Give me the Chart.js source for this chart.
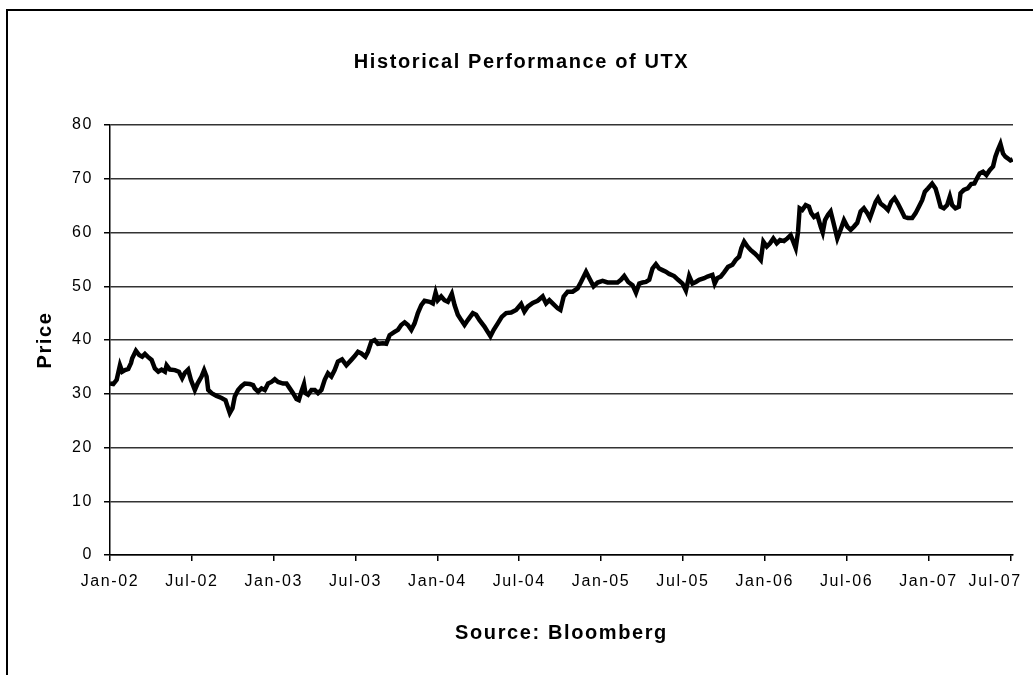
<!DOCTYPE html>
<html>
<head>
<meta charset="utf-8">
<title>Historical Performance of UTX</title>
<script src="https://cdn.jsdelivr.net/npm/chart.js@4.4.1/dist/chart.umd.min.js"></script>
<style>
  html, body { margin: 0; padding: 0; background: #fff; overflow: hidden; }
  #frame { position: absolute; left: 6px; top: 9px; width: 1100px; height: 720px;
           border-left: 2px solid #000; border-top: 2px solid #000; }
  #wrap { position: absolute; left: 0; top: 0; width: 1033px; height: 675px; }
</style>
</head>
<body>
<div id="frame"></div>
<div id="wrap"><canvas id="utx" width="1033" height="675"></canvas></div>
<script>
// ── DATA (month offsets from Jan-02, closing price) ─────────────────
var months = [
  0.00, 0.24, 0.49, 0.73, 0.90, 1.10, 1.34, 1.54, 1.63, 1.90,
  2.14, 2.36, 2.56, 2.76, 3.05, 3.29, 3.54, 3.78, 4.03, 4.15,
  4.39, 4.76, 5.05, 5.29, 5.49, 5.73, 5.93, 6.22, 6.42, 6.71,
  6.90, 7.08, 7.20, 7.45, 7.81, 8.18, 8.47, 8.62, 8.78, 8.98,
  9.15, 9.39, 9.64, 9.88, 10.25, 10.49, 10.61, 10.86, 11.11, 11.35,
  11.59, 11.84, 12.08, 12.32, 12.69, 12.94, 13.18, 13.42, 13.67, 13.84,
  14.03, 14.22, 14.33, 14.52, 14.77, 15.01, 15.25, 15.50, 15.74, 15.98,
  16.23, 16.47, 16.71, 17.01, 17.33, 17.69, 17.94, 18.18, 18.43, 18.72,
  18.91, 19.16, 19.40, 19.64, 20.00, 20.25, 20.50, 20.86, 21.11, 21.35,
  21.60, 21.84, 22.09, 22.33, 22.57, 22.82, 23.06, 23.43, 23.67, 23.87,
  24.03, 24.28, 24.52, 24.77, 25.06, 25.26, 25.50, 25.75, 25.99, 26.23,
  26.60, 26.84, 27.09, 27.45, 27.69, 27.89, 28.13, 28.43, 28.72, 29.04,
  29.41, 29.77, 30.14, 30.38, 30.62, 30.99, 31.35, 31.72, 31.97, 32.21,
  32.45, 32.82, 33.02, 33.26, 33.55, 33.92, 34.28, 34.53, 34.90, 35.14,
  35.45, 35.75, 36.11, 36.48, 36.84, 37.21, 37.46, 37.70, 37.99, 38.31,
  38.56, 38.80, 39.04, 39.29, 39.53, 39.77, 40.02, 40.26, 40.50, 40.75,
  40.99, 41.36, 41.65, 41.97, 42.22, 42.46, 42.70, 42.95, 43.19, 43.56,
  43.80, 44.16, 44.33, 44.52, 44.77, 45.02, 45.31, 45.63, 45.87, 46.12,
  46.29, 46.49, 46.73, 46.98, 47.27, 47.51, 47.71, 47.90, 48.15, 48.39,
  48.63, 48.88, 49.12, 49.41, 49.66, 49.90, 50.09, 50.27, 50.44, 50.56,
  50.75, 51.00, 51.24, 51.41, 51.61, 51.85, 52.10, 52.25, 52.42, 52.64,
  52.83, 53.02, 53.32, 53.56, 53.81, 54.05, 54.30, 54.54, 54.78, 55.03,
  55.27, 55.52, 55.71, 55.88, 56.13, 56.30, 56.49, 56.79, 57.03, 57.27,
  57.52, 57.76, 58.00, 58.25, 58.49, 58.81, 59.06, 59.30, 59.54, 59.74,
  59.96, 60.27, 60.52, 60.69, 60.89, 61.13, 61.37, 61.57, 61.74, 61.98,
  62.23, 62.35, 62.59, 62.88, 63.13, 63.37, 63.56, 63.76, 64.00, 64.25,
  64.49, 64.74, 64.91, 65.08, 65.28, 65.47, 65.64, 65.81, 66.01, 66.18
];
var prices = [
  31.9, 31.8, 32.6, 35.3, 34.1, 34.4, 34.6, 35.7, 36.6, 38.0,
  37.2, 36.9, 37.4, 36.9, 36.3, 34.7, 34.1, 34.5, 34.1, 35.3,
  34.5, 34.4, 34.1, 32.9, 33.9, 34.5, 32.6, 30.7, 31.9, 33.2,
  34.4, 33.2, 30.7, 30.1, 29.6, 29.2, 28.8, 27.6, 26.4, 27.3,
  29.5, 30.7, 31.4, 31.9, 31.8, 31.6, 31.0, 30.4, 31.0, 30.7,
  31.9, 32.2, 32.7, 32.2, 31.9, 31.9, 31.0, 30.1, 29.0, 28.8,
  30.4, 31.8, 30.1, 29.8, 30.7, 30.7, 30.1, 30.7, 32.6, 33.8,
  33.2, 34.4, 36.0, 36.4, 35.3, 36.3, 37.0, 37.8, 37.5, 36.9,
  37.8, 39.7, 40.0, 39.3, 39.4, 39.3, 40.9, 41.5, 41.9, 42.8,
  43.3, 42.8, 41.9, 43.1, 45.0, 46.5, 47.3, 47.1, 46.8, 48.8,
  47.4, 48.1, 47.4, 47.1, 48.6, 46.5, 44.7, 43.7, 42.8, 43.7,
  45.0, 44.7, 43.7, 42.5, 41.5, 40.7, 41.9, 43.1, 44.3, 45.0,
  45.1, 45.6, 46.7, 45.3, 46.2, 46.9, 47.3, 48.1, 46.8, 47.4,
  46.8, 45.9, 45.6, 48.1, 49.0, 49.0, 49.6, 50.8, 52.7, 51.5,
  50.0, 50.7, 51.0, 50.7, 50.7, 50.7, 51.2, 51.9, 50.8, 50.2,
  48.8, 50.5, 50.7, 50.8, 51.2, 53.3, 54.1, 53.3, 53.0, 52.7,
  52.3, 51.9, 51.2, 50.5, 49.2, 51.9, 50.5, 50.8, 51.2, 51.5,
  51.8, 52.1, 50.5, 51.5, 51.8, 52.6, 53.6, 54.0, 54.9, 55.5,
  57.1, 58.3, 57.4, 56.7, 56.1, 55.5, 54.9, 58.3, 57.4, 58.0,
  58.9, 58.0, 58.6, 58.4, 58.9, 59.5, 58.3, 57.1, 60.1, 64.5,
  64.2, 65.1, 64.8, 63.6, 62.9, 63.3, 61.1, 60.0, 62.3, 63.3,
  63.9, 62.0, 58.9, 60.5, 62.3, 61.1, 60.5, 61.1, 61.8, 63.9,
  64.5, 63.6, 62.7, 63.9, 65.7, 66.4, 65.4, 64.8, 64.2, 65.7,
  66.4, 65.4, 64.2, 62.9, 62.7, 62.7, 63.6, 64.8, 66.0, 67.6,
  68.2, 69.1, 68.2, 66.7, 64.8, 64.5, 65.1, 66.7, 65.1, 64.5,
  64.8, 67.3, 67.9, 68.2, 69.0, 69.1, 70.1, 71.0, 71.3, 70.7,
  71.6, 72.3, 74.1, 75.3, 76.5, 74.7, 74.1, 73.8, 73.4, 73.6
];

// ── AXIS TICKS ──────────────────────────────────────────────────────
var tickMonths = [0, 6, 12, 18, 24, 30, 36, 42, 48, 54, 60, 66];
var tickLabels = ["Jan-02", "Jul-02", "Jan-03", "Jul-03", "Jan-04", "Jul-04",
                  "Jan-05", "Jul-05", "Jan-06", "Jul-06", "Jan-07", "Jul-07"];

// ── BUILD POINTS ────────────────────────────────────────────────────
var points = [];
for (var i = 0; i < months.length; i++) {
    points.push({ x: months[i], y: prices[i] });
}

var FONT = "'Liberation Sans', Arial, sans-serif";

// stretched Excel-style text: a little extra letter spacing
var spacing = {
    id: "spacing",
    beforeDraw: function (chart) { chart.ctx.letterSpacing = "1.6px"; }
};

new Chart(document.getElementById("utx"), {
    type: "line",
    data: {
        datasets: [{
            label: "UTX",
            data: points,
            borderColor: "#000",
            borderWidth: 4.5,
            pointRadius: 0,
            tension: 0,
            fill: false
        }]
    },
    options: {
        responsive: false,
        animation: false,
        layout: { padding: { left: 30, right: 20, top: 0, bottom: 0 } },
        plugins: {
            legend: { display: false },
            tooltip: { enabled: false },
            title: {
                display: true,
                text: "Historical Performance of UTX",
                color: "#000",
                font: { family: FONT, size: 20, weight: "bold" },
                padding: { top: 50, bottom: 51 }
            }
        },
        scales: {
            x: {
                type: "linear",
                min: 0,
                max: 66.2,
                afterBuildTicks: function (s) {
                    s.ticks = tickMonths.map(function (m) { return { value: m }; });
                },
                afterFit: function (s) {
                    s.height = 120;
                    s.paddingLeft = 0;
                    s.paddingRight = 0;
                },
                ticks: {
                    color: "#000",
                    font: { family: FONT, size: 16 },
                    padding: 11,
                    maxRotation: 0,
                    autoSkip: false,
                    callback: function (v) {
                        var k = tickMonths.indexOf(v);
                        if (k < 0) return "";
                        // last label is pulled in so it stays inside the frame
                        return k === tickLabels.length - 1 ? tickLabels[k] + "     " : tickLabels[k];
                    }
                },
                grid: { drawOnChartArea: false, drawTicks: true, tickLength: 6, color: "#000", lineWidth: 1.5 },
                border: { color: "#000", width: 1.5 },
                title: {
                    display: true,
                    text: "Source: Bloomberg",
                    color: "#000",
                    font: { family: FONT, size: 20, weight: "bold" },
                    padding: { top: 0, bottom: 30 }
                }
            },
            y: {
                min: 0,
                max: 80,
                afterFit: function (s) { s.width = 80; },
                ticks: {
                    stepSize: 10,
                    color: "#000",
                    font: { family: FONT, size: 16 },
                    padding: 11
                },
                grid: { color: "#333", lineWidth: 1.5, drawTicks: true, tickLength: 6, tickColor: "#000" },
                border: { color: "#000", width: 1.5 },
                title: {
                    display: true,
                    text: "Price",
                    color: "#000",
                    font: { family: FONT, size: 20, weight: "bold" },
                    padding: { top: 3, bottom: 0 }
                }
            }
        }
    },
    plugins: [spacing]
});
</script>
</body>
</html>
